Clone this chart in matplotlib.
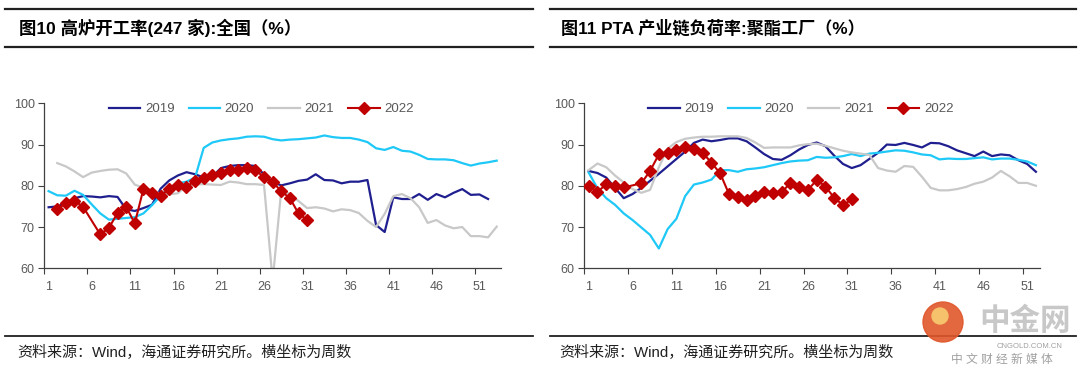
import numpy as np
import matplotlib
matplotlib.use('Agg')
import matplotlib.pyplot as plt
from matplotlib.lines import Line2D
from matplotlib.patches import Circle
from matplotlib.transforms import IdentityTransform

plt.rcParams['font.family'] = ['Liberation Sans', 'Noto Sans CJK SC', 'DejaVu Sans']

# 图10 高炉开工率 (weeks are category positions)
weeks_19_l = list(range(1, 53))
v19_l = [74.8, 75.0, 75.8, 77.0, 77.5, 77.4, 77.2, 77.5, 77.3, 74.3,
         73.9, 74.6, 75.4, 79.3, 81.3, 82.5, 83.3, 82.8, 82.0, 82.2,
         84.3, 84.8, 85.0, 85.0, 84.8, 82.8, 80.9, 80.1, 80.6, 81.2,
         81.5, 82.8, 81.4, 81.3, 80.6, 81.0, 81.0, 81.4, 70.5, 68.8,
         77.2, 76.8, 76.8, 78.0, 76.6, 78.0, 77.2, 78.3, 79.2, 77.8,
         77.9, 76.8]
weeks_20_l = list(range(1, 54))
v20_l = [78.7, 77.7, 77.6, 78.8, 77.8, 75.5, 73.3, 71.8, 72.0, 72.2,
         72.4, 73.3, 75.3, 77.6, 79.5, 80.6, 81.0, 82.0, 89.2, 90.5,
         91.0, 91.3, 91.5, 91.9, 92.0, 91.9, 91.3, 91.0, 91.2, 91.3,
         91.5, 91.7, 92.2, 91.8, 91.6, 91.6, 91.2, 90.6, 89.1, 88.7,
         89.4, 88.5, 88.3, 87.5, 86.5, 86.4, 86.4, 86.2, 85.5, 84.9,
         85.4, 85.7, 86.1]
weeks_21_l = list(range(2, 54))
v21_l = [85.5, 84.7, 83.5, 82.1, 83.2, 83.6, 83.9, 84.0, 83.0, 80.3,
         79.5, 79.0, 78.0, 77.9, 78.2, 80.0, 80.3, 80.4, 80.3, 80.2,
         81.0, 80.8, 80.4, 80.4, 80.2, 57.0, 79.0, 78.0, 76.3, 74.6,
         74.8, 74.5, 73.8, 74.3, 74.1, 73.4, 71.5, 70.0, 73.2, 77.5,
         78.0, 77.0, 74.8, 71.0, 71.7, 70.4, 69.7, 70.0, 67.8, 67.8,
         67.5, 70.1]
weeks_22_l = [2, 3, 4, 5] + list(range(7, 32))
v22_l = [74.3, 75.8, 76.4, 74.9,
         68.2, 69.8, 73.4, 74.9, 70.9, 79.2, 78.2, 77.5, 79.3, 80.1,
         79.8, 81.2, 82.0, 82.5, 83.2, 83.8, 83.8, 84.2, 83.8, 82.1,
         80.9, 78.7, 77.0, 73.3, 71.7]

# 图11 PTA 产业链负荷率:聚酯工厂
weeks_r = list(range(1, 53))
v19_r = [83.6, 83.1, 82.0, 79.5, 77.0, 78.0, 79.5, 81.2, 82.9, 84.7,
         86.5, 88.3, 90.4, 91.2, 90.8, 91.1, 91.5, 91.5, 90.8, 89.3,
         87.7, 86.5, 86.3, 87.4, 88.8, 89.9, 90.5, 89.6, 87.3, 85.3,
         84.3, 85.0, 86.5, 88.0, 90.0, 89.9, 90.4, 89.9, 89.3, 90.4,
         90.3, 89.6, 88.6, 87.9, 87.2, 88.3, 87.2, 87.6, 87.4, 86.2,
         85.3, 83.4]
v20_r = [83.2, 79.4, 77.0, 75.4, 73.3, 71.7, 69.9, 68.1, 64.8, 69.5,
         72.0, 77.5, 80.3, 80.8, 81.5, 83.8, 83.8, 83.4, 84.0, 84.2,
         84.5, 85.0, 85.5, 85.9, 86.1, 86.2, 87.0, 86.8, 86.9, 87.2,
         87.7, 87.2, 87.8, 88.0, 88.3, 88.6, 88.5, 88.1, 87.6, 87.4,
         86.4, 86.6, 86.5, 86.5, 86.7, 86.9, 86.4, 86.6, 86.6, 86.3,
         85.9, 85.0]
v21_r = [83.8, 85.4, 84.5, 82.5, 80.8, 79.2, 78.3, 79.0, 84.5, 89.0,
         90.6, 91.4, 91.7, 91.9, 91.9, 92.0, 92.0, 92.0, 91.6, 90.5,
         89.2, 89.3, 89.3, 89.3, 89.8, 90.1, 90.2, 89.7, 89.1, 88.5,
         88.1, 87.8, 87.5, 84.3, 83.7, 83.4, 84.8, 84.6, 82.2, 79.5,
         78.9, 78.9, 79.2, 79.7, 80.5, 81.0, 82.0, 83.6, 82.3, 80.7,
         80.7, 80.0]
weeks_22_r = [1, 2, 3, 4, 5] + list(range(7, 32))
v22_r = [80.0, 78.5, 80.4, 80.0, 79.6,
         80.6, 83.6, 87.6, 88.0, 88.7, 89.3, 88.9, 88.0, 85.6, 83.0,
         78.0, 77.2, 76.6, 77.5, 78.5, 78.3, 78.5, 80.6, 79.8, 79.0,
         81.4, 79.8, 77.1, 75.3, 76.7]

titles = ['图10 高炉开工率(247 家):全国（%）', '图11 PTA 产业链负荷率:聚酯工厂（%）']
source = '资料来源：Wind，海通证券研究所。横坐标为周数'
years = ['2019', '2020', '2021', '2022']
colors = ['#1f1f8f', '#1ec8f7', '#c8c8c8', '#c00000']
tick_color = '#595959'

W, H = 1080, 374
fig = plt.figure(figsize=(W / 100, H / 100), dpi=100)


def fx(px):
    return px / W


def fy(py):
    return 1 - py / H


def draw_panel(ax, series, ncat):
    for (wk, vals), c, lab in zip(series, colors, years):
        if lab == '2022':
            ax.plot(wk, vals, color=c, lw=1.5, marker='D', ms=6, mec=c, label=lab, zorder=5)
        else:
            ax.plot(wk, vals, color=c, lw=1.6, label=lab)
    ax.set_xlim(0.5, ncat + 0.5)
    ax.set_ylim(60, 100)
    ax.set_yticks(range(60, 101, 10))
    ax.set_xticks(np.arange(0.5, 51, 5))
    ax.set_xticklabels([])
    ax.set_xticks(np.arange(1, 52, 5), minor=True)
    ax.set_xticklabels([str(i) for i in range(1, 52, 5)], minor=True)
    ax.tick_params(axis='x', which='major', direction='out', length=4, color='#404040')
    ax.tick_params(axis='x', which='minor', length=0, pad=9, labelsize=9, labelcolor=tick_color)
    ax.tick_params(axis='y', direction='out', length=4, color='#404040', labelsize=9,
                   labelcolor=tick_color, pad=3)
    for s in ['top', 'right']:
        ax.spines[s].set_visible(False)
    for s in ['left', 'bottom']:
        ax.spines[s].set_color('#404040')
        ax.spines[s].set_linewidth(0.9)
    leg = ax.legend(loc='center', bbox_to_anchor=(0.475, 0.965), ncol=4, frameon=False,
                    fontsize=9.5, handlelength=2.4, handletextpad=0.35, columnspacing=1.05)
    for t in leg.get_texts():
        t.set_color(tick_color)


ax1 = fig.add_axes([fx(44.3), fy(268.3), fx(501 - 44.3), (268.3 - 103.3) / H])
draw_panel(ax1, [(weeks_19_l, v19_l), (weeks_20_l, v20_l), (weeks_21_l, v21_l), (weeks_22_l, v22_l)], 53)

ax2 = fig.add_axes([fx(584.3), fy(268.3), fx(1040.3 - 584.3), (268.3 - 103.3) / H])
draw_panel(ax2, [(weeks_r, v19_r), (weeks_r, v20_r), (weeks_r, v21_r), (weeks_22_r, v22_r)], 52)

# title bars and source lines
for x0, x1, tx in [(5, 533, 19), (550, 1076, 561)]:
    fig.add_artist(Line2D([fx(x0), fx(x1)], [fy(9), fy(9)], color='#202020', lw=1.6))
    fig.add_artist(Line2D([fx(x0), fx(x1)], [fy(47), fy(47)], color='#202020', lw=1.6))
    fig.add_artist(Line2D([fx(x0), fx(x1)], [fy(336), fy(336)], color='#202020', lw=1.3))
    fig.text(fx(tx - 2), fy(353), source, fontsize=10.8, va='center', ha='left', color='#202020')
fig.text(fx(19), fy(28), titles[0], fontsize=12.5, fontweight='bold', va='center', ha='left')
fig.text(fx(561), fy(28), titles[1], fontsize=12.3, fontweight='bold', va='center', ha='left')

# watermark
fig.add_artist(Circle((943, H - 322), 20, transform=IdentityTransform(),
                      color='#e0562a', alpha=0.9, zorder=10))
fig.add_artist(Circle((940, H - 316), 8, transform=IdentityTransform(),
                      color='#f6c26b', zorder=11))
fig.text(fx(1025), fy(322), '中金网', fontsize=22, fontweight='bold', color='#c8c8c8',
         ha='center', va='center', zorder=10)
fig.text(fx(1030), fy(346), 'CNGOLD.COM.CN', fontsize=5.5, color='#a0a0a0', ha='center', va='center')
fig.text(fx(1002), fy(360), '中 文 财 经 新 媒 体', fontsize=8.5, color='#a0a0a0', ha='center', va='center')

fig.savefig('out.png', dpi=100)
